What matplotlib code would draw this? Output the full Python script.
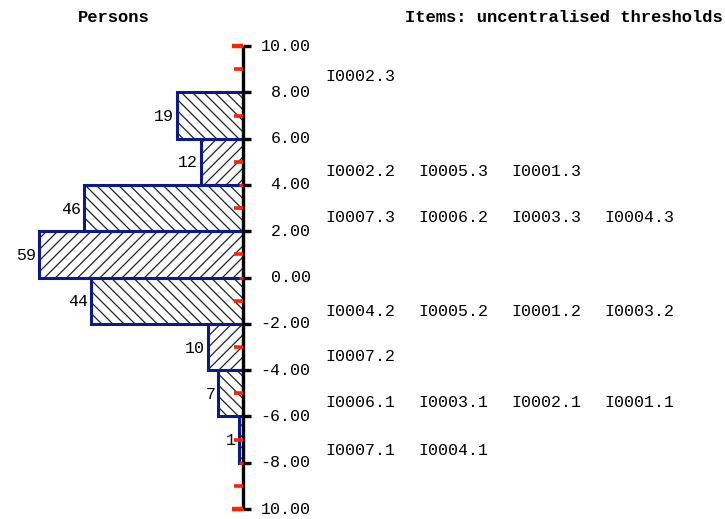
#!/usr/bin/env python3
"""Person-item map: person histogram on the left, item thresholds on the right."""

import matplotlib

matplotlib.use("Agg")
import matplotlib.pyplot as plt

# Person distribution (bins on the logit scale)
bin_tops = [8, 6, 4, 2, 0, -2, -4, -6]
bin_height = 2
person_counts = [19, 12, 46, 59, 44, 10, 7, 1]
bar_hatches = ["\\\\\\", "///", "\\\\\\", "///", "\\\\\\", "///", "\\\\\\", "///"]

# Scale ticks
major_ticks = [10, 8, 6, 4, 2, 0, -2, -4, -6, -8, -10]
major_labels = ["10.00", "8.00", "6.00", "4.00", "2.00", "0.00",
                "-2.00", "-4.00", "-6.00", "-8.00", "10.00"]
red_long = [9, 7, 5, 3, 1, -1, -3, -5, -7, -9]
red_short = [4, 0, -8]
red_ends = [10, -10]

# Item thresholds, one text row per location
item_rows_y = [8.7, 4.6, 2.6, -1.45, -3.4, -5.4, -7.45]
item_rows = [
    ["I0002.3"],
    ["I0002.2", "I0005.3", "I0001.3"],
    ["I0007.3", "I0006.2", "I0003.3", "I0004.3"],
    ["I0004.2", "I0005.2", "I0001.2", "I0003.2"],
    ["I0007.2"],
    ["I0006.1", "I0003.1", "I0002.1", "I0001.1"],
    ["I0007.1", "I0004.1"],
]

MONO = "Liberation Mono"
PX = 3.45  # pixels per person on the x scale
NAVY = "#0c1a8a"
RED = "#ff2200"

plt.rcParams["hatch.linewidth"] = 0.9

fig = plt.figure(figsize=(7.25, 5.19), dpi=100)
ax = fig.add_axes([0, 0, 1, 1])
ax.set_xlim(-242.5 / PX, (725 - 242.5) / PX)
ax.set_ylim(-10.43, 11.99)
ax.axis("off")

centers = [t - bin_height / 2 for t in bin_tops]
ax.barh(centers, [-c for c in person_counts], height=bin_height, left=0,
        color="white", edgecolor="#222222", linewidth=0, hatch=bar_hatches, zorder=2)
ax.barh(centers, [-c for c in person_counts], height=bin_height, left=0,
        fill=False, edgecolor=NAVY, linewidth=2.2, zorder=3)

for y, c in zip(centers, person_counts):
    ax.annotate(str(c), xy=(-c, y), xytext=(-3, -1), textcoords="offset pixels",
                ha="right", va="center", fontsize=12, family=MONO)

# axis line and ticks
ax.vlines(0, -10, 10, color="black", linewidth=2.4, zorder=4)
ax.hlines(major_ticks, 0, 8 / PX, color="black", linewidth=2.4, zorder=4)
ax.hlines(red_long, -9 / PX, 0, color=RED, linewidth=2.6, zorder=4)
ax.hlines(red_short, -4 / PX, 0, color=RED, linewidth=2, zorder=4)
ax.hlines(red_ends, -11 / PX, 0, color=RED, linewidth=3.2, zorder=4)
for v, lab in zip(major_ticks, major_labels):
    ax.annotate(lab, xy=(0, v), xytext=(68, 0), textcoords="offset pixels",
                ha="right", va="center", fontsize=12, family=MONO)

for y, row in zip(item_rows_y, item_rows):
    for j, name in enumerate(row):
        ax.annotate(name, xy=(0, y), xytext=(83 + 93 * j, 0), textcoords="offset pixels",
                    ha="left", va="center", fontsize=12, family=MONO)

fig.text(114 / 725, 1 - 17 / 519, "Persons", ha="center", va="center",
         fontsize=12.3, family=MONO, fontweight="bold")
fig.text(405 / 725, 1 - 17 / 519, "Items: uncentralised thresholds", ha="left", va="center",
         fontsize=12.3, family=MONO, fontweight="bold")

fig.savefig("out.png", dpi=100, facecolor="white")
